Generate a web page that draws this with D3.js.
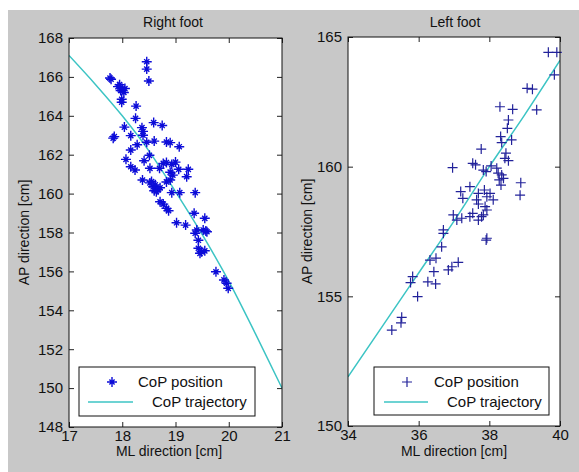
<!DOCTYPE html>
<html><head><meta charset="utf-8">
<script src="https://cdn.jsdelivr.net/npm/d3@7"></script>
<style>
body{margin:0;background:#fff}
svg{display:block}
text{font-family:"Liberation Sans",Arial,sans-serif;fill:#111}
</style>
</head><body>
<svg id="c" width="579" height="472"></svg>
<script>
// ---------- data ----------
const rightTitle = "Right foot";
const leftTitle = "Left foot";
const xLabel = "ML direction [cm]";
const yLabel = "AP direction [cm]";
const legendLabels = ["CoP position", "CoP trajectory"];

const rightXTicks = [17, 18, 19, 20, 21];
const rightYTicks = [148, 150, 152, 154, 156, 158, 160, 162, 164, 166, 168];
const leftXTicks = [34, 36, 38, 40];
const leftYTicks = [150, 155, 160, 165];

// Right foot CoP positions
const rightML = [18.46,18.46,18.50,17.77,17.79,17.92,17.97,18.00,18.03,17.95,18.05,17.99,17.99,18.26,18.25,18.04,
  17.85,17.83,18.16,18.37,18.39,18.39,18.59,18.75,18.28,18.46,18.60,18.83,18.90,19.07,18.16,18.51,18.07,18.41,
  18.16,18.24,18.52,18.70,18.77,18.83,18.93,19.00,18.90,18.95,19.06,19.24,19.21,18.38,18.52,18.58,18.62,18.67,
  18.60,18.55,18.71,18.64,18.83,18.90,18.93,19.08,19.37,18.71,18.77,18.83,18.87,19.02,19.19,19.35,19.55,19.40,
  19.52,19.57,19.37,19.59,19.43,19.43,19.49,19.55,19.46,19.76,19.91,19.96,19.99];
const rightAP = [166.78,166.40,165.79,165.94,165.88,165.50,165.30,165.40,165.20,165.60,165.40,164.85,164.70,164.50,163.87,163.42,
  162.93,162.85,162.98,163.39,163.20,163.00,163.65,163.50,162.51,162.64,162.70,162.65,162.62,162.41,162.24,161.97,161.76,161.69,
  161.38,161.21,161.30,161.30,161.55,161.60,161.50,161.62,161.10,160.95,161.25,161.25,160.87,160.70,160.55,160.35,160.45,160.20,
  160.15,160.62,160.30,160.10,160.60,160.70,160.05,160.05,160.05,159.58,159.46,159.24,159.12,158.50,158.38,158.99,158.73,158.13,
  158.13,158.08,157.96,158.04,157.60,157.19,157.01,157.06,156.93,155.98,155.56,155.39,155.13];
// Right foot trajectory
const rightTrajML = [17.0, 17.5, 18.0, 18.5, 19.0, 19.5, 20.0, 20.5, 21.0];
const rightTrajAP = [167.1, 165.6, 164.0, 162.2, 160.1, 157.9, 155.5, 152.8, 150.0];

// Left foot CoP positions
const leftML = [39.67,39.91,39.84,39.07,39.22,39.34,38.30,38.66,38.54,38.51,38.63,38.32,38.35,38.47,38.44,38.54,37.77,
  36.96,37.53,37.61,37.83,37.91,38.05,38.21,38.25,38.35,38.28,38.40,38.33,38.89,38.87,37.19,37.25,37.45,37.69,37.86,
  37.93,38.02,38.11,37.64,37.69,37.88,37.93,37.83,36.98,37.08,37.22,37.45,37.53,37.69,37.78,36.70,37.93,36.70,37.91,
  36.65,36.32,36.49,37.12,36.94,36.84,36.43,35.83,35.77,36.26,36.48,35.97,35.52,35.50,35.24];
const leftAP = [164.41,164.41,163.54,163.02,162.99,162.19,162.31,162.21,161.80,161.48,161.03,161.16,160.93,160.52,160.32,160.23,160.68,
  159.96,160.13,160.07,159.87,159.81,160.03,159.94,159.75,159.68,159.49,159.55,159.29,159.38,158.90,159.04,158.78,159.23,158.97,159.10,
  158.84,158.97,158.72,158.72,158.56,158.46,158.33,158.14,158.14,157.94,158.01,158.07,158.20,157.94,158.07,157.56,157.24,157.43,157.17,
  156.91,156.40,156.47,156.31,156.14,156.02,155.95,155.76,155.53,155.56,155.48,154.99,154.19,153.98,153.70];
// Left foot trajectory
const leftTrajML = [34, 35, 36, 37, 38, 39, 40];
const leftTrajAP = [151.9, 153.9, 155.9, 157.9, 160.0, 162.0, 164.1];

// ---------- drawing ----------
const svg = d3.select("#c");
svg.append("rect").attr("x", 0).attr("y", 0).attr("width", 579).attr("height", 472).attr("fill", "#fff");
svg.append("rect").attr("x", 8).attr("y", 10).attr("width", 571).attr("height", 462).attr("fill", "#c8c8c8");

const lineColor = "#3cc4c4";
const starPath = "M-5,0H5M0,-5V5M-2.6,-2.6L2.6,2.6M-2.6,2.6L2.6,-2.6";
const plusPath = "M-5,0H5M0,-5V5";

const panels = [
  {title: rightTitle, x0: 69, x1: 282, y0: 38, y1: 427, xd: [17, 21], yd: [148, 168],
   xt: rightXTicks, yt: rightYTicks, ml: rightML, ap: rightAP, tml: rightTrajML, tap: rightTrajAP,
   marker: starPath, mColor: "#0c0cd8", mWidth: 1.4, titleX: 173, xlabX: 169, ylabX: 29,
   leg: {x: 79, y: 367, w: 176, h: 49, mx: 112, lx0: 88, lx1: 133, t1: 138, t2: 152}},
  {title: leftTitle, x0: 348, x1: 560, y0: 37, y1: 426, xd: [34, 40], yd: [150, 165],
   xt: leftXTicks, yt: leftYTicks, ml: leftML, ap: leftAP, tml: leftTrajML, tap: leftTrajAP,
   marker: plusPath, mColor: "#22229a", mWidth: 1.2, titleX: 455, xlabX: 454, ylabX: 312,
   leg: {x: 374, y: 367, w: 175, h: 48, mx: 407, lx0: 384, lx1: 428, t1: 434, t2: 447}}
];

panels.forEach((p, i) => {
  const x = d3.scaleLinear().domain(p.xd).range([p.x0, p.x1]);
  const y = d3.scaleLinear().domain(p.yd).range([p.y1, p.y0]);
  const g = svg.append("g");

  g.append("rect").attr("x", p.x0).attr("y", p.y0)
    .attr("width", p.x1 - p.x0).attr("height", p.y1 - p.y0).attr("fill", "#fff");

  const clipId = "clip" + i;
  svg.append("clipPath").attr("id", clipId).append("rect")
    .attr("x", p.x0).attr("y", p.y0).attr("width", p.x1 - p.x0).attr("height", p.y1 - p.y0);

  // axes (ticks inward)
  const styleAxis = sel => {
    sel.select(".domain").remove();
    sel.selectAll(".tick line").attr("stroke", "#222");
    sel.selectAll(".tick text").attr("font-size", 15).attr("fill", "#111")
       .style("font-family", "'Liberation Sans', Arial, sans-serif");
  };
  g.append("g").attr("transform", `translate(0,${p.y1})`)
    .call(d3.axisBottom(x).tickValues(p.xt).tickSize(-5).tickPadding(3).tickFormat(d3.format("d"))).call(styleAxis);
  g.append("g").attr("transform", `translate(0,${p.y0})`)
    .call(d3.axisTop(x).tickValues(p.xt).tickSize(-5).tickFormat("")).call(styleAxis);
  g.append("g").attr("transform", `translate(${p.x0},0)`)
    .call(d3.axisLeft(y).tickValues(p.yt).tickSize(-5).tickPadding(6).tickFormat(d3.format("d"))).call(styleAxis);
  g.append("g").attr("transform", `translate(${p.x1},0)`)
    .call(d3.axisRight(y).tickValues(p.yt).tickSize(-5).tickFormat("")).call(styleAxis);

  // trajectory
  const traj = p.tml.map((v, k) => [v, p.tap[k]]);
  g.append("path").datum(traj).attr("clip-path", `url(#${clipId})`)
    .attr("fill", "none").attr("stroke", lineColor).attr("stroke-width", 1.5)
    .attr("d", d3.line().x(d => x(d[0])).y(d => y(d[1])).curve(d3.curveMonotoneX));

  // points
  g.append("g").selectAll("path").data(p.ml.map((v, k) => [v, p.ap[k]])).join("path")
    .attr("transform", d => `translate(${x(d[0])},${y(d[1])})`)
    .attr("d", p.marker).attr("fill", "none").attr("stroke", p.mColor).attr("stroke-width", p.mWidth);

  // frame
  g.append("rect").attr("x", p.x0).attr("y", p.y0)
    .attr("width", p.x1 - p.x0).attr("height", p.y1 - p.y0)
    .attr("fill", "none").attr("stroke", "#111").attr("stroke-width", 1);

  // legend
  const L = p.leg;
  g.append("rect").attr("x", L.x).attr("y", L.y).attr("width", L.w).attr("height", L.h)
    .attr("fill", "#fff").attr("stroke", "#111").attr("stroke-width", 1);
  g.append("path").attr("transform", `translate(${L.mx},${L.y + 15})`)
    .attr("d", p.marker).attr("fill", "none").attr("stroke", p.mColor).attr("stroke-width", p.mWidth);
  g.append("line").attr("x1", L.lx0).attr("x2", L.lx1).attr("y1", L.y + 35).attr("y2", L.y + 35)
    .attr("stroke", lineColor).attr("stroke-width", 1.5);
  g.append("text").attr("x", L.t1).attr("y", L.y + 20).attr("font-size", 15).text(legendLabels[0]);
  g.append("text").attr("x", L.t2).attr("y", L.y + 40).attr("font-size", 15).text(legendLabels[1]);

  // titles and labels
  g.append("text").attr("x", p.titleX).attr("y", 27).attr("text-anchor", "middle")
    .attr("font-size", 14).text(p.title);
  g.append("text").attr("x", p.xlabX).attr("y", 456).attr("text-anchor", "middle")
    .attr("font-size", 14).text(xLabel);
  g.append("text").attr("transform", `translate(${p.ylabX},${(p.y0 + p.y1) / 2}) rotate(-90)`)
    .attr("text-anchor", "middle").attr("font-size", 14).text(yLabel);
});
</script>
</body></html>
